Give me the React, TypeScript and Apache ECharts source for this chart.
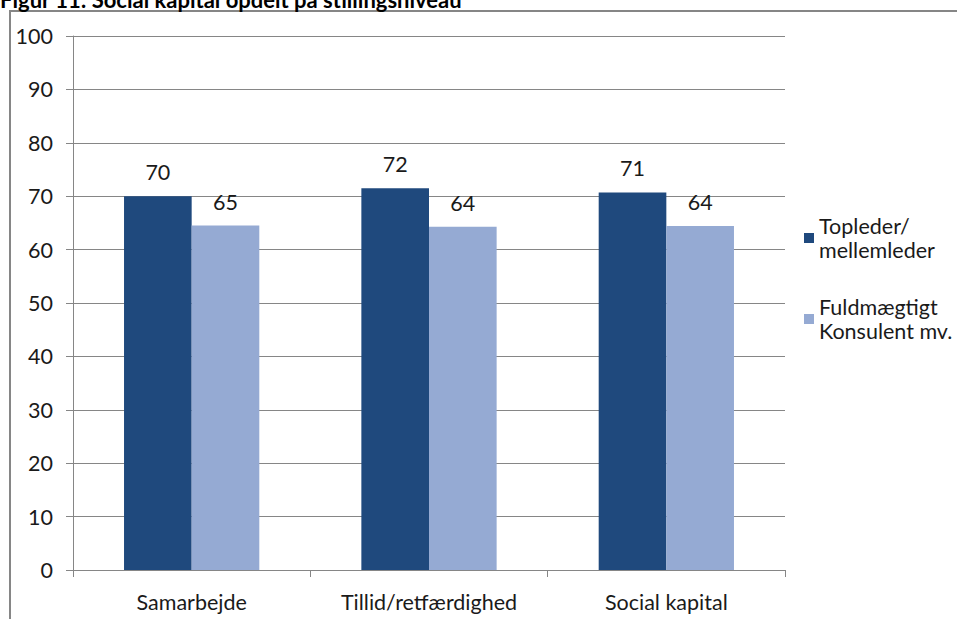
import React, { useEffect, useRef } from "react";
import * as echarts from "echarts";

// Categories and values for figure 11
const categories = ["Samarbejde", "Tillid/retfærdighed", "Social kapital"];
const seriesNames = ["Topleder/\nmellemleder", "Fuldmægtigt\nKonsulent mv."];
const lederValues = [70.0, 71.5, 70.7];
const konsulentValues = [64.5, 64.3, 64.4];
const yTicks = { min: 0, max: 100, interval: 10 };
const titleText = "Figur 11: Social kapital opdelt på stillingsniveau";

const FONT = "Lato, 'Liberation Sans', sans-serif";
const FS = 21.5;
const GRID_COLOR = "#868686";
const DARK = "#1F497D";
const LIGHT = "#95AAD3";

export default function App() {
  const ref = useRef<HTMLDivElement>(null);

  useEffect(() => {
    if (!ref.current) return;
    const chart = echarts.init(ref.current, undefined, { renderer: "svg" });

    const label = {
      show: true,
      position: "top",
      distance: 13,
      color: "#1a1a1a",
      fontSize: FS,
      fontFamily: FONT,
      formatter: (p: any) => String(Math.round(p.value)),
    };

    chart.setOption({
      animation: false,
      backgroundColor: "#ffffff",
      textStyle: { fontFamily: FONT },
      graphic: [
        {
          type: "rect",
          z: -10,
          shape: { x: 10, y: 11, width: 2000, height: 2000 },
          style: { fill: "none", stroke: GRID_COLOR, lineWidth: 2 },
        },
        {
          type: "text",
          x: 0,
          y: -1,
          style: {
            text: titleText,
            fontFamily: FONT,
            fontWeight: "bold",
            fontSize: 22,
            fill: "#000",
            verticalAlign: "middle",
          },
        },
      ],
      grid: { left: 73, right: 172, top: 36, bottom: 49, containLabel: false },
      legend: {
        orient: "vertical",
        left: 804,
        top: 202,
        padding: 0,
        itemWidth: 10,
        itemHeight: 10,
        itemGap: 9,
        icon: "rect",
        data: seriesNames,
        textStyle: {
          fontFamily: FONT,
          fontSize: FS,
          lineHeight: 24,
          color: "#1a1a1a",
          padding: [24, 0, 0, 0],
        },
      },
      xAxis: {
        type: "category",
        data: categories,
        axisLine: { show: true, lineStyle: { color: GRID_COLOR, width: 1 } },
        axisTick: { show: true, length: 7, lineStyle: { color: GRID_COLOR } },
        axisLabel: { margin: 21, fontSize: FS, color: "#1a1a1a", fontFamily: FONT },
      },
      yAxis: {
        type: "value",
        min: yTicks.min,
        max: yTicks.max,
        interval: yTicks.interval,
        axisLine: { show: true, lineStyle: { color: GRID_COLOR, width: 1 } },
        axisTick: { show: true, length: 7, lineStyle: { color: GRID_COLOR } },
        splitLine: { show: true, lineStyle: { color: GRID_COLOR, width: 1 } },
        axisLabel: { margin: 20, fontSize: FS, color: "#1a1a1a", fontFamily: FONT },
      },
      series: [
        {
          name: seriesNames[0],
          type: "bar",
          data: lederValues,
          barGap: "0%",
          barCategoryGap: "43%",
          itemStyle: { color: DARK },
          label,
        },
        {
          name: seriesNames[1],
          type: "bar",
          data: konsulentValues,
          barGap: "0%",
          barCategoryGap: "43%",
          itemStyle: { color: LIGHT },
          label,
        },
      ],
    });

    return () => chart.dispose();
  }, []);

  return (
    <div
      ref={ref}
      style={{ position: "absolute", left: 0, top: 0, width: 957, height: 619 }}
    />
  );
}
